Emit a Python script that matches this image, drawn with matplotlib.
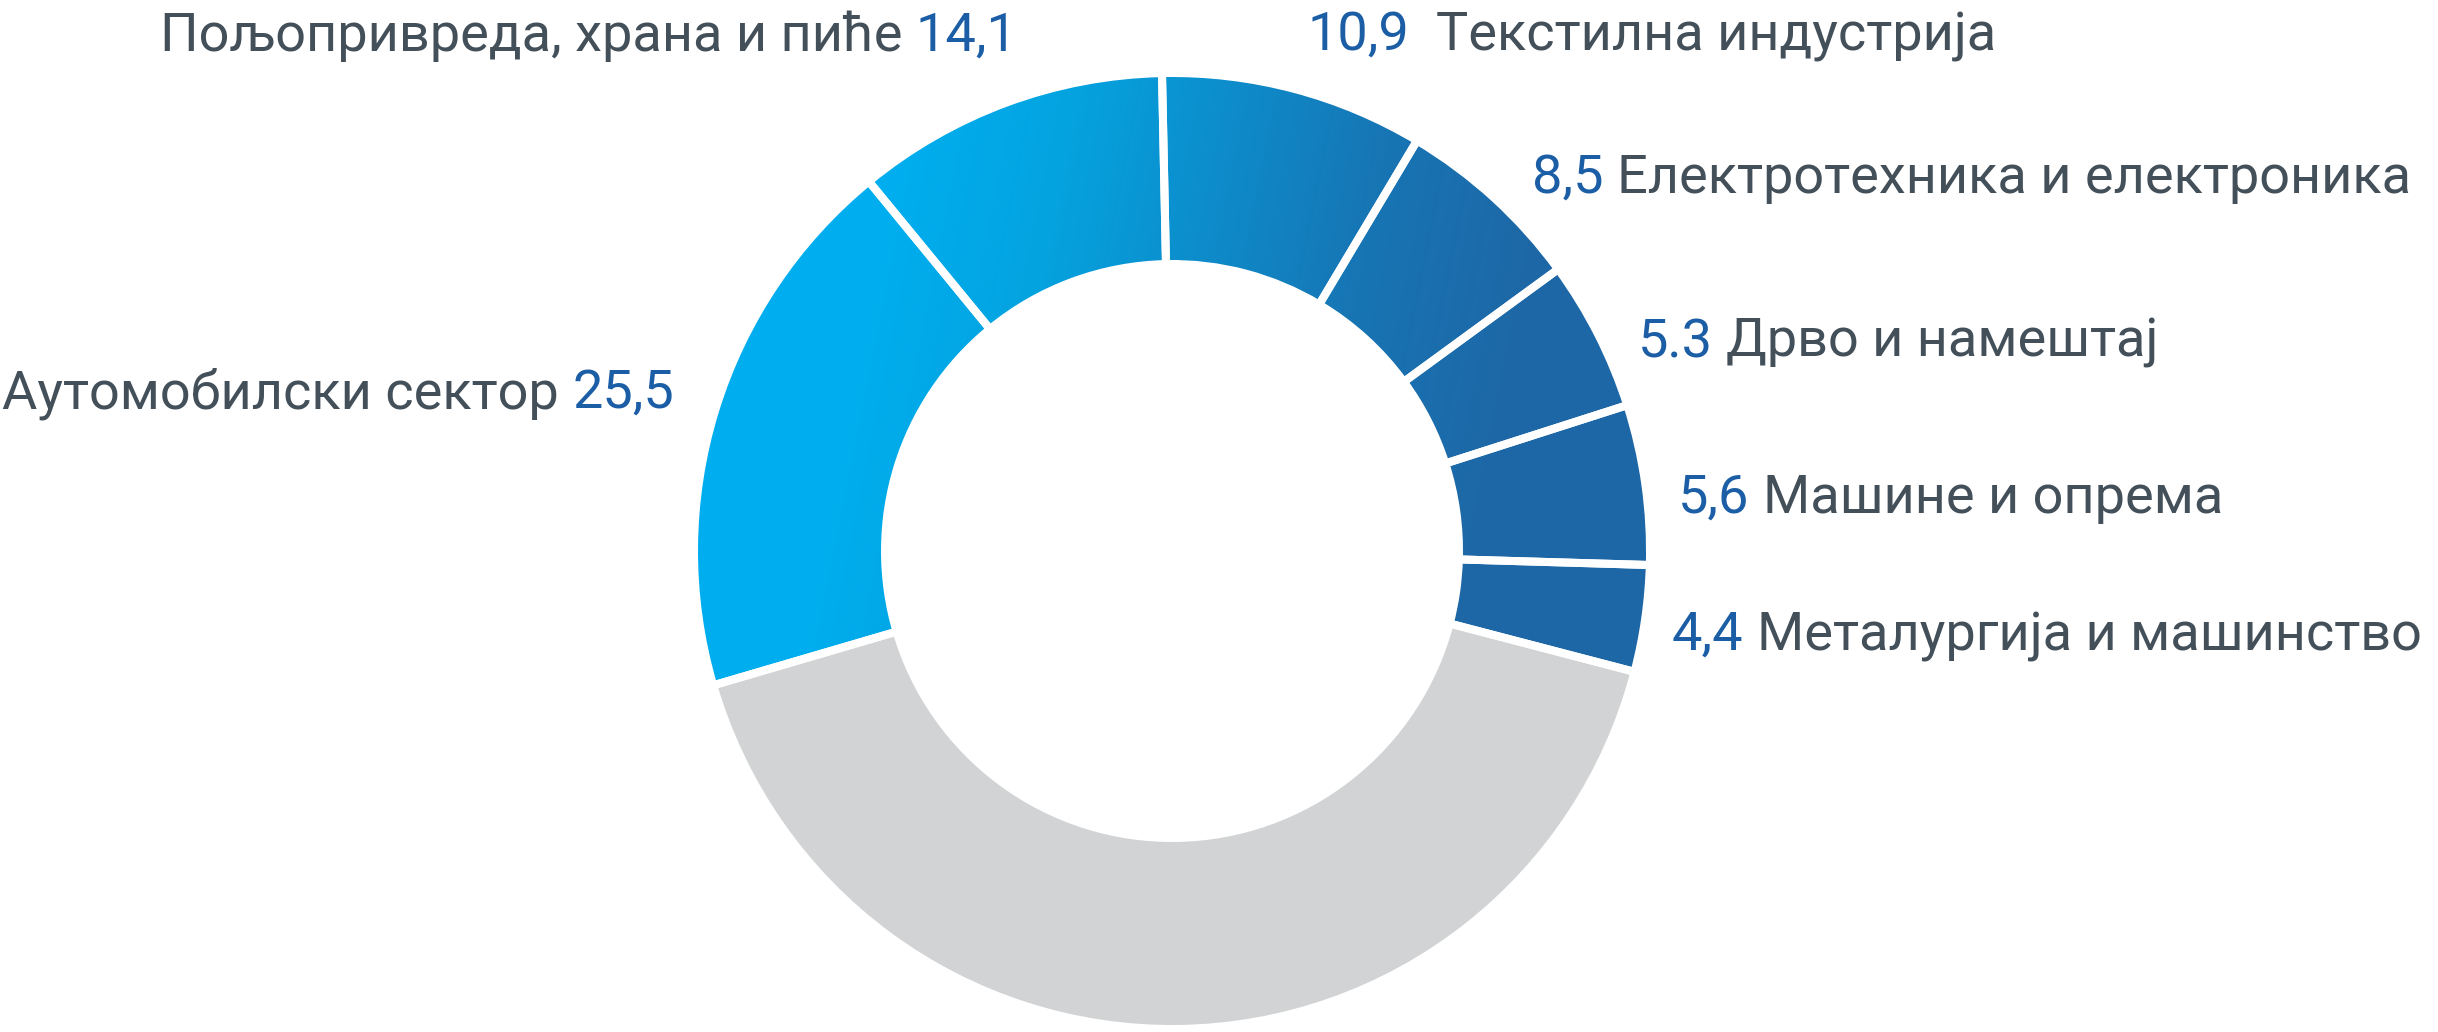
import matplotlib
matplotlib.use("Agg")
import matplotlib.pyplot as plt
import numpy as np
from matplotlib.colors import LinearSegmentedColormap

# sectors clockwise from the top; the grey slice has no label
sectors = ["Текстилна индустрија", "Електротехника и електроника", "Дрво и намештај",
           "Машине и опрема", "Металургија и машинство", None,
           "Аутомобилски сектор", "Пољопривреда, храна и пиће"]
value_labels = ["10,9", "8,5", "5.3", "5,6", "4,4", None, "25,5", "14,1"]
# share of the ring each slice takes in the picture (%)
shares = [8.9, 6.4, 5.1, 5.4, 3.6, 41.4, 18.6, 10.6]

W, H = 2438, 1032
GREY_TXT = "#434f59"
BLUE_TXT = "#1b5ea6"
FONT = ["Roboto", "DejaVu Sans"]
FS = 39

# label layout: left x, baseline y (pixels from top), number first?, gap
label_pos = {
    "Текстилна индустрија": (1307, 50, True, "  "),
    "Електротехника и електроника": (1532, 193, True, " "),
    "Дрво и намештај": (1638, 357, True, " "),
    "Машине и опрема": (1678, 513, True, " "),
    "Металургија и машинство": (1672, 650, True, " "),
    "Аутомобилски сектор": (2, 408, False, " "),
    "Пољопривреда, храна и пиће": (160, 51, False, " "),
}

fig = plt.figure(figsize=(W / 100, H / 100), dpi=100)
fig.patch.set_facecolor("white")

cx, cy, R0 = 1172, 551, 474
side = 1000
ax = fig.add_axes([(cx - side / 2) / W, (H - cy - side / 2) / H, side / W, side / H])
lim = side / 2 / R0

outer = 478 / R0
ring = (478 - 287) / R0
lw = 8 * 72 / 100

colors = ["#1e67a6"] * len(shares)
colors[5] = "#d1d3d4"
wedges, _ = ax.pie(shares, startangle=91.2, counterclock=False, radius=outer,
                   colors=colors, wedgeprops=dict(width=ring, linewidth=0))

# blue gradient, light cyan on the left to dark blue on the right
cmap = LinearSegmentedColormap.from_list(
    "ring", ["#00aeef", "#04a3df", "#0e8bca", "#1874b3", "#1e67a6"])
xs = np.linspace(-lim, lim, 500)
X, Y = np.meshgrid(xs, xs[::-1])
t = np.clip((X - 0.2 * Y + 0.75) / 1.4, 0, 1)
for i, w in enumerate(wedges):
    if sectors[i] is None:
        continue
    im = ax.imshow(cmap(t), extent=(-lim, lim, -lim, lim), zorder=2,
                   interpolation="bilinear")
    im.set_clip_path(w)

# white separators on top
ax.pie(shares, startangle=91.2, counterclock=False, radius=outer,
       colors=["none"] * len(shares),
       wedgeprops=dict(width=ring, edgecolor="white", linewidth=lw, zorder=3))
ax.set_xlim(-lim, lim)
ax.set_ylim(-lim, lim)
ax.set_aspect("equal")
ax.axis("off")

renderer = fig.canvas.get_renderer()


def width_px(s):
    tt = fig.text(0, 0, s, fontsize=FS, family=FONT)
    w = tt.get_window_extent(renderer).width
    tt.remove()
    return w


space_w = width_px("н н") - width_px("нн")

for name, val in zip(sectors, value_labels):
    if name is None:
        continue
    x, y, num_first, gap = label_pos[name]
    parts = [(val, BLUE_TXT), (name, GREY_TXT)] if num_first else [(name, GREY_TXT), (val, BLUE_TXT)]
    for s, c in parts:
        fig.text(x / W, 1 - y / H, s, fontsize=FS, family=FONT, color=c,
                 ha="left", va="baseline")
        x += width_px(s) + space_w * len(gap)

fig.savefig("out.png", dpi=100, facecolor="white")
